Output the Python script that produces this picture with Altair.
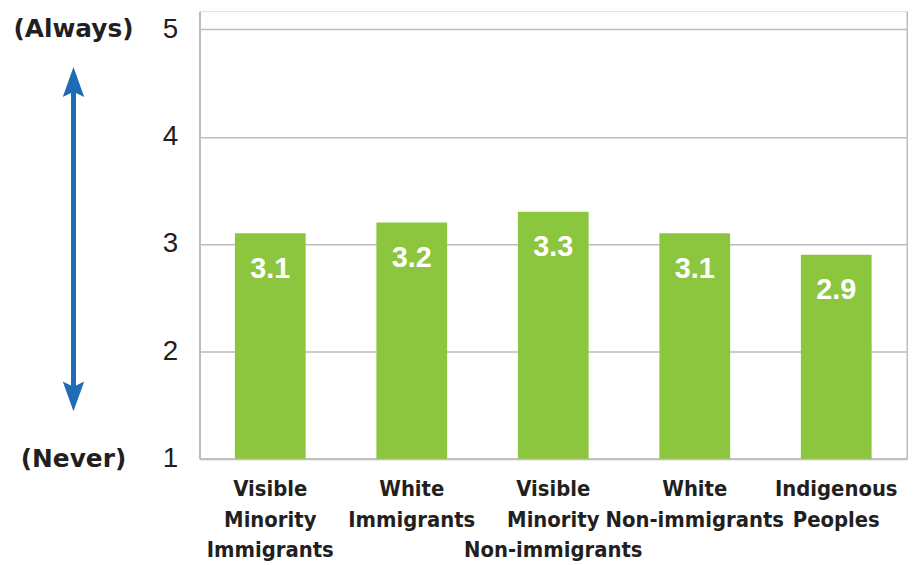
import altair as alt
import pandas as pd

groups = ["Visible|Minority|Immigrants", "White|Immigrants", "Visible|Minority|Non-immigrants",
          "White|Non-immigrants", "Indigenous|Peoples"]
values = [3.1, 3.2, 3.3, 3.1, 2.9]
y_ticks = [1, 2, 3, 4, 5]
end_labels = ["(Always)", "(Never)"]
end_values = [5, 1]
arrow_span = [4.51, 1.58]
head_pos = [4.51, 1.58]
head_dir = ["up", "down"]

GREEN = "#8cc63f"
BLUE = "#1f6bb5"
GRAY = "#bdbdbd"
DARK = "#231f20"
ARROW_X = -127

df = pd.DataFrame({"group": groups, "value": values})
ends = pd.DataFrame({"label": end_labels, "v": end_values})
shaft = pd.DataFrame({"a": [arrow_span[0]], "b": [arrow_span[1]]})
heads = pd.DataFrame({"v": head_pos, "dir": head_dir})

yscale = alt.Scale(domain=[1, 5.17], nice=False, zero=False)
xenc = alt.X("group:N", sort=groups, title=None,
             scale=alt.Scale(paddingInner=0.5, paddingOuter=0.25),
             axis=alt.Axis(labelAngle=0, domain=True, domainColor=GRAY, domainWidth=2,
                           ticks=False, grid=False, labelLimit=0,
                           labelExpr="split(datum.value, '|')",
                           labelFont="Liberation Sans Narrow, DejaVu Sans Condensed, sans-serif",
                           labelFontWeight="bold", labelFontSize=22, labelLineHeight=31,
                           labelColor=DARK, labelPadding=20, labelBaseline="top"))

bars = alt.Chart(df).mark_bar(color=GREEN).encode(
    x=xenc,
    y=alt.Y("value:Q", scale=yscale, title=None,
            axis=alt.Axis(values=y_ticks, grid=True, gridColor=GRAY, gridWidth=1.5,
                          domain=True, domainColor=GRAY, domainWidth=2, ticks=False,
                          labelFont="Liberation Sans", labelFontSize=28, labelColor=DARK,
                          labelPadding=22)),
    y2=alt.datum(1),
)

vals = alt.Chart(df).mark_text(color="white", font="Liberation Sans", fontWeight="bold",
                               fontSize=29, baseline="middle", dy=36).encode(
    x=alt.X("group:N", sort=groups),
    y=alt.Y("value:Q", scale=yscale, axis=None),
    text=alt.Text("value:Q", format=".1f"),
)

end_text = alt.Chart(ends).mark_text(font="DejaVu Sans", fontWeight="bold", fontSize=25,
                                      color=DARK, align="center", baseline="middle").encode(
    x=alt.value(ARROW_X),
    y=alt.Y("v:Q", scale=yscale, axis=None),
    text="label:N",
)

arrow = alt.Chart(shaft).mark_rule(color=BLUE, strokeWidth=5).encode(
    x=alt.value(ARROW_X),
    y=alt.Y("a:Q", scale=yscale, title=None,
            axis=alt.Axis(orient="right", labels=False, ticks=False, grid=False,
                          domain=True, domainColor=GRAY, domainWidth=2)),
    y2="b:Q",
)

up = alt.Chart(heads).transform_filter("datum.dir == 'up'").mark_point(
    shape="M0,-1L0.72,1L0,0.65L-0.72,1Z", filled=True, color=BLUE, opacity=1, size=900).encode(
    x=alt.value(ARROW_X),
    y=alt.Y("v:Q", scale=yscale, axis=None),
)
down = alt.Chart(heads).transform_filter("datum.dir == 'down'").mark_point(
    shape="M0,1L0.72,-1L0,-0.65L-0.72,-1Z", filled=True, color=BLUE, opacity=1, size=900).encode(
    x=alt.value(ARROW_X),
    y=alt.Y("v:Q", scale=yscale, axis=None),
)

chart = alt.layer(bars, vals, end_text, arrow, up, down).resolve_axis(y="independent").properties(
    width=713, height=451,
    autosize=alt.AutoSizeParams(type="none"),
    padding={"left": 193, "top": 1, "right": 1, "bottom": 110},
).configure_view(stroke=None).configure(background="white")

chart.save("out.html", embed_options={"renderer": "svg", "actions": False})
